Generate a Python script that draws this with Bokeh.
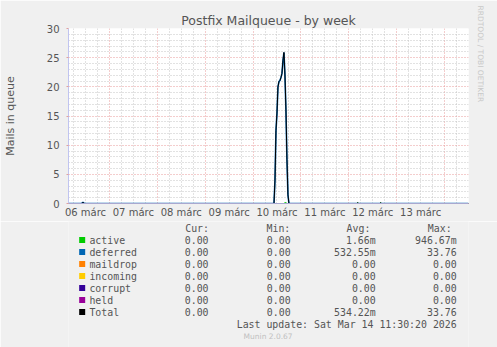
from bokeh.plotting import figure
from bokeh.models import Range1d, FixedTicker, Title
from bokeh.layouts import column
from bokeh.core.properties import value
from bokeh.embed import file_html
from bokeh.resources import INLINE

# ---------------- data ----------------
# time in hours since 06 márc 00:00 (local)
hours = [3.5, 10.0, 10.5, 11.0, 11.5, 106.0, 106.5, 107.0, 107.5, 108.0, 108.5,
         109.0, 109.5, 110.0, 110.5, 111.0, 111.5, 112.0, 112.5, 113.0, 113.5,
         114.0, 148.0, 148.5, 149.0, 159.5, 160.0, 160.5, 204.0]
active = [0, 0, 0, 0, 0, 0, 0, 0, 0, 0, 0,
          0, 0, 0, 0, 0, 0, 0.15, 0.15, 0, 0,
          0, 0, 0.12, 0, 0, 0.12, 0, 0]
deferred = [0, 0, 0.15, 0.15, 0, 0, 0, 4.0, 12.5, 15.5, 20.0,
            20.9, 21.1, 21.6, 22.3, 24.5, 25.9, 21.9, 15.9, 7.5, 1.5,
            0, 0, 0, 0, 0, 0, 0, 0]
total = [0, 0, 0.15, 0.15, 0, 0, 0, 4.0, 12.5, 15.5, 20.0,
         20.9, 21.1, 21.6, 22.3, 24.5, 25.9, 22.05, 16.05, 7.5, 1.5,
         0, 0, 0.12, 0, 0, 0.12, 0, 0]
zero_hours = [3.5, 204.0]
maildrop = [0, 0]
incoming = [0, 0]
corrupt = [0, 0]
held = [0, 0]

series_names = ["active", "deferred", "maildrop", "incoming", "corrupt", "held", "Total"]
series_colors = ["#00CC00", "#0066B3", "#FF8000", "#FFCC00", "#330099", "#990099", "#000000"]
cur_vals = ["0.00", "0.00", "0.00", "0.00", "0.00", "0.00", "0.00"]
min_vals = ["0.00", "0.00", "0.00", "0.00", "0.00", "0.00", "0.00"]
avg_vals = ["1.66m", "532.55m", "0.00", "0.00", "0.00", "0.00", "534.22m"]
max_vals = ["946.67m", "33.76", "0.00", "0.00", "0.00", "0.00", "33.76"]
col_headers = ["Cur:", "Min:", "Avg:", "Max:"]
last_update = "Last update: Sat Mar 14 11:30:20 2026"
version_text = "Munin 2.0.67"

x_tick_hours = [12, 36, 60, 84, 108, 132, 156, 180]
x_tick_labels = ["06 márc", "07 márc", "08 márc", "09 márc", "10 márc", "11 márc", "12 márc", "13 márc"]
day_lines = [24, 48, 72, 96, 120, 144, 168, 192]
six_hour_lines = [6, 12, 18, 30, 36, 42, 54, 60, 66, 78, 84, 90, 102, 108, 114,
                  126, 132, 138, 150, 156, 162, 174, 180, 186, 198]
y_ticks = [0, 5, 10, 15, 20, 25, 30]
y_major_grid = [5, 10, 15, 20, 25, 30]
y_minor_grid = [1, 2, 3, 4, 6, 7, 8, 9, 11, 12, 13, 14, 16, 17, 18, 19,
                21, 22, 23, 24, 26, 27, 28, 29]

TXT = "#555555"
BG = "#f0f0f0"
MONO = "DejaVu Sans Mono"
SANS = "DejaVu Sans"
TOP = 221

# ---------------- graph ----------------
p = figure(width=497, height=TOP, output_backend="svg", toolbar_location=None,
           x_range=Range1d(3.5, 204.0), y_range=Range1d(0, 30),
           min_border_left=67, min_border_right=29, min_border_top=28,
           min_border_bottom=18)
p.background_fill_color = "#ffffff"
p.border_fill_color = BG
p.outline_line_color = None

p.title.text = "Postfix Mailqueue - by week"
p.title.align = "center"
p.title.offset = -19.5
p.title.text_font = SANS
p.title.text_font_size = "12.5px"
p.title.text_font_style = "normal"
p.title.text_color = TXT
p.title.standoff = 2

p.add_layout(Title(text="RRDTOOL / TOBI OETIKER", text_font=SANS, text_font_size="7.5px",
                   text_font_style="normal", text_color="#c8c8c8", align="left",
                   offset=-23, standoff=14), "right")

# grids
p.xgrid.ticker = FixedTicker(ticks=day_lines, minor_ticks=six_hour_lines)
p.xgrid.grid_line_color = "#e89a9a"
p.xgrid.grid_line_dash = "1 2"
p.xgrid.minor_grid_line_color = "#c4c4c4"
p.xgrid.minor_grid_line_dash = "1 2"
p.ygrid.ticker = FixedTicker(ticks=y_major_grid, minor_ticks=y_minor_grid)
p.ygrid.grid_line_color = "#e89a9a"
p.ygrid.grid_line_dash = "1 2"
p.ygrid.minor_grid_line_color = "#c4c4c4"
p.ygrid.minor_grid_line_dash = "1 2"

# axes
p.xaxis.ticker = FixedTicker(ticks=x_tick_hours)
p.xaxis.major_label_overrides = {h: t for h, t in zip(x_tick_hours, x_tick_labels)}
p.xaxis.major_tick_line_color = None
p.xaxis.major_tick_out = 0
p.xaxis.major_tick_in = 0
p.xaxis.minor_tick_line_color = None
p.xaxis.minor_tick_out = 0
p.xaxis.axis_line_color = "#a8a8d0"
p.xaxis.major_label_text_font = SANS
p.xaxis.major_label_text_font_size = "10px"
p.xaxis.major_label_text_color = TXT
p.xaxis.major_label_standoff = 3

p.yaxis.ticker = FixedTicker(ticks=y_ticks)
p.yaxis.major_tick_line_color = "#e0a0a0"
p.yaxis.major_tick_out = 2
p.yaxis.major_tick_in = 0
p.yaxis.minor_tick_line_color = None
p.yaxis.axis_line_color = "#c0c4f0"
p.yaxis.major_label_text_font = SANS
p.yaxis.major_label_text_font_size = "10px"
p.yaxis.major_label_text_color = TXT
p.yaxis.major_label_standoff = 7
p.yaxis.axis_label = "Mails in queue"
p.yaxis.axis_label_text_font = SANS
p.yaxis.axis_label_text_font_size = "11px"
p.yaxis.axis_label_text_font_style = "normal"
p.yaxis.axis_label_text_color = TXT
p.yaxis.axis_label_standoff = 27

# series lines (drawn in munin order)
p.line(hours, active, line_color=series_colors[0], line_width=1)
p.line(hours, deferred, line_color=series_colors[1], line_width=1.6)
p.line(zero_hours, maildrop, line_color=series_colors[2], line_width=1)
p.line(zero_hours, incoming, line_color=series_colors[3], line_width=1)
p.line(zero_hours, corrupt, line_color=series_colors[4], line_width=1)
p.line(zero_hours, held, line_color=series_colors[5], line_width=1)
p.line(hours, total, line_color=series_colors[6], line_width=1)

# ---------------- legend table (pixel coordinates, y down) ----------------
q = figure(width=497, height=347 - TOP, output_backend="svg", toolbar_location=None,
           x_range=Range1d(0, 497), y_range=Range1d(347, TOP),
           x_axis_type=None, y_axis_type=None,
           min_border=0, min_border_left=0, min_border_right=0,
           min_border_top=0, min_border_bottom=0)
q.background_fill_color = BG
q.border_fill_color = BG
q.outline_line_color = None
q.grid.visible = False

row_y = [239.5, 251.5, 263.5, 275.5, 287.5, 299.5, 311.5]
mono = dict(text_font=value(MONO), text_font_size=value("9.9px"), text_color=TXT,
            text_baseline="middle")

q.text(x=[145, 246, 345.5, 446.5], y=[228] * 4, text=col_headers, text_align="left", **mono)
q.scatter(x=[17] * len(series_names), y=row_y, marker="square", size=6,
          fill_color=series_colors, line_color=None)
q.text(x=[26] * len(series_names), y=row_y, text=series_names, text_align="left", **mono)
q.text(x=[174] * 7, y=row_y, text=cur_vals, text_align="right", **mono)
q.text(x=[276] * 7, y=row_y, text=min_vals, text_align="right", **mono)
q.text(x=[381.7] * 7, y=row_y, text=avg_vals, text_align="right", **mono)
q.text(x=[482.3] * 7, y=row_y, text=max_vals, text_align="right", **mono)
q.text(x=[482.3], y=[323.5], text=[last_update], text_align="right", **mono)
q.text(x=[248], y=[336], text=[version_text], text_align="center", text_baseline="middle",
       text_font=value(SANS), text_font_size=value("7.5px"), text_color="#c0c0c0")

layout = column(p, q, spacing=0)
open("out.html", "w").write(file_html(layout, INLINE))
